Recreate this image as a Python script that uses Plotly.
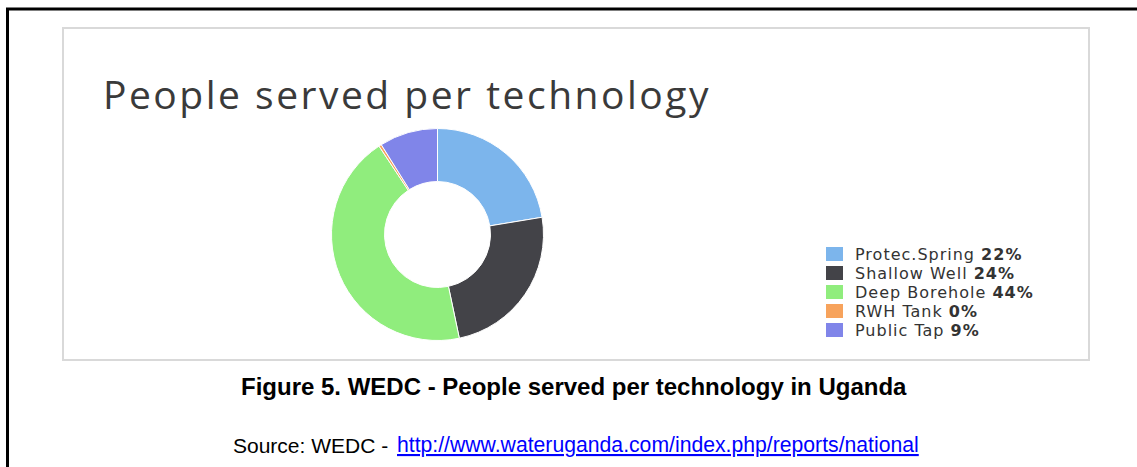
import plotly.graph_objects as go

categories = ["Protec.Spring", "Shallow Well", "Deep Borehole", "RWH Tank", "Public Tap"]
values = [22.4, 24.3, 44.0, 0.4, 8.9]
colors = ["#7cb5ec", "#434348", "#90ed7d", "#f7a35c", "#8085e9"]

chart_title = "People served per technology"
caption = "Figure 5. WEDC - People served per technology in Uganda"
source_prefix = "Source: WEDC -"
source_link = "http://www.wateruganda.com/index.php/reports/national"

W, H = 1137, 467
total = sum(values)
percents = [round(v / total * 100) for v in values]


def px(x):
    return x / W


def py(y):
    return 1 - y / H


cx, cy, d = 437.5, 234.5, 212
fig = go.Figure()
fig.add_trace(go.Pie(
    labels=categories,
    values=values,
    marker=dict(colors=colors, line=dict(color="white", width=1)),
    hole=0.5,
    sort=False,
    direction="clockwise",
    rotation=0,
    textinfo="none",
    hoverinfo="label+percent",
    showlegend=False,
    domain=dict(x=[px(cx - d / 2), px(cx + d / 2)], y=[py(cy + d / 2), py(cy - d / 2)]),
))

shapes = [
    dict(type="rect", xref="paper", yref="paper", x0=px(63), x1=px(1089), y0=py(360), y1=py(28),
         line=dict(color="#d9d9d9", width=2)),
    dict(type="rect", xref="paper", yref="paper", x0=px(7.5), x1=px(1150), y0=py(480), y1=py(9),
         line=dict(color="black", width=3)),
]

annotations = [
    dict(text=f'<span style="letter-spacing:2.5px">{chart_title}</span>', x=px(101), y=py(94),
         xref="paper", yref="paper", xanchor="left", yanchor="middle",
         showarrow=False, font=dict(family="Open Sans", size=39, color="#3a3a3a")),
    dict(text=f"<b>{caption}</b>", x=px(574), y=py(386), xref="paper", yref="paper", xanchor="center",
         yanchor="middle", showarrow=False, font=dict(family="Liberation Sans", size=24, color="black")),
    dict(text=source_prefix, x=px(231), y=py(445), xref="paper", yref="paper", xanchor="left",
         yanchor="middle", showarrow=False, font=dict(family="Liberation Sans", size=21, color="black")),
    dict(text=source_link, x=px(395), y=py(445), xref="paper", yref="paper", xanchor="left",
         yanchor="middle", showarrow=False,
         font=dict(family="Liberation Sans", size=21.2, color="#0000ff", lineposition="under")),
]

# legend (custom, to match the tight row spacing of the original)
row0, row_gap = 254, 19
for i, (cat, pct, col) in enumerate(zip(categories, percents, colors)):
    yc = row0 + i * row_gap
    shapes.append(dict(type="rect", xref="paper", yref="paper", x0=px(826), x1=px(843),
                       y0=py(yc + 7), y1=py(yc - 7), fillcolor=col, line=dict(width=0)))
    annotations.append(dict(
        text=f'<span style="letter-spacing:1px">{cat} <b>{pct}%</b></span>',
        x=px(853), y=py(yc), xref="paper", yref="paper", xanchor="left", yanchor="middle",
        showarrow=False, font=dict(family="DejaVu Sans", size=16, color="#333333")))

fig.update_layout(
    width=W, height=H,
    margin=dict(l=0, r=0, t=0, b=0),
    paper_bgcolor="white",
    plot_bgcolor="white",
    shapes=shapes,
    annotations=annotations,
    showlegend=False,
)

fig.write_html("out.html", config={"displayModeBar": False},
               post_script="document.body.style.margin='0';document.body.style.overflow='hidden';")
